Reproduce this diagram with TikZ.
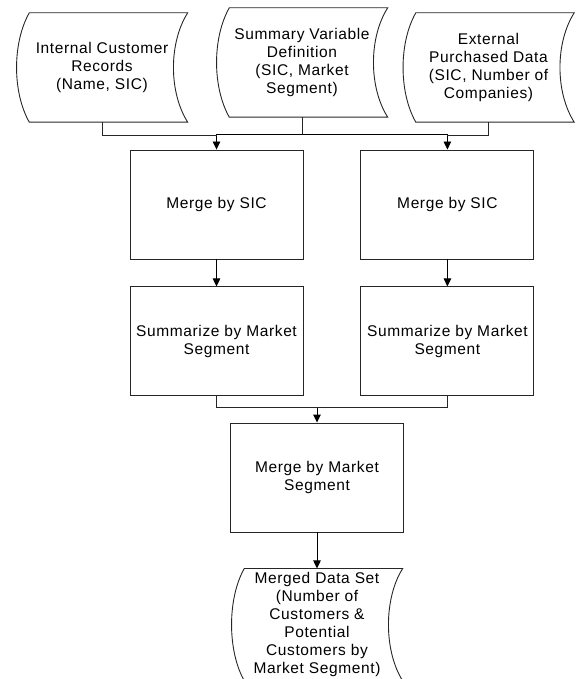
\documentclass[tikz,border=0pt]{standalone}
\usepackage{fontspec}
\setmainfont{Liberation Sans}[LetterSpace=4]
\usetikzlibrary{positioning, arrows.meta, calc}

\newcommand{\chartfont}{\fontsize{15.5}{18}\selectfont}

\tikzset{
    box/.style={
        rectangle, draw=black!85, line width=0.9pt, inner sep=2pt,
        align=center, font=\chartfont,
        minimum width=173pt, minimum height=109pt,
    },
    store/.style={
        rectangle, inner sep=0pt, align=center, font=\chartfont,
        minimum width=171pt, minimum height=109pt,
    },
    outline/.style={draw=black!85, line width=0.9pt},
    flow/.style={
        -{Triangle[length=8pt,width=7.5pt]}, line width=0.9pt, draw=black
    },
    link/.style={line width=0.9pt, draw=black!85},
}

% stored-data outline round a store node: both sides bow to the left
\newcommand{\drawstore}[1]{%
    \draw[outline] ($(#1.north west)+(13,0)$) -- (#1.north east)
        .. controls ($(#1.north east)+(-19,30)$) and ($(#1.south east)+(-19,-30)$) .. (#1.south east)
        -- ($(#1.south west)+(13,0)$)
        .. controls ($(#1.south west)+(-4,-30)$) and ($(#1.north west)+(-4,30)$) .. cycle;%
}

\begin{document}
\begin{tikzpicture}[x=1pt, y=-1pt, node distance=27pt and 57pt]
\useasboundingbox (0,0) rectangle (576,679);

% ============================================================
%  Top row: the three data sources
% ============================================================
\node[store] (intern) at (102,67.5) {Internal Customer\\Records\\(Name, SIC)};
\node[store] (summary) at (302,62.5) {Summary Variable\\Definition\\(SIC, Market\\Segment)};
\node[store] (extern) at (488.5,67.5) {External\\Purchased Data\\(SIC, Number of\\Companies)};

\drawstore{intern}
\drawstore{summary}
\drawstore{extern}

% ============================================================
%  Two parallel branches
% ============================================================
\node[box] (mergeA) at (216.5,204.5) {Merge by SIC};
\node[box, right=of mergeA] (mergeB) {Merge by SIC};

\node[box, below=of mergeA] (sumA) {Summarize by Market\\Segment};
\node[box, below=of mergeB] (sumB) {Summarize by Market\\Segment};

\draw[flow] (mergeA) -- (sumA);
\draw[flow] (mergeB) -- (sumB);

% definition feeds both merges, the records join from the sides
\coordinate (hub)   at ($(summary.south)+(0,17)$);
\coordinate (joinA) at ($(mergeA.north)+(0,-14)$);
\coordinate (joinB) at ($(mergeB.north)+(0,-14)$);

\draw[link] (summary.south) -- (hub);
\draw[flow] (hub) -| (mergeA.north);
\draw[flow] (hub) -| (mergeB.north);
\draw[link] (intern.south) |- (joinA);
\draw[link] (extern.south) |- (joinB);

% ============================================================
%  Final merge and output
% ============================================================
\node[box] (mergeM) at (317,477.5) {Merge by Market\\Segment};

\coordinate (meet) at ($(mergeM.north)+(0,-15)$);
\draw[link] (sumA.south) |- (meet);
\draw[link] (sumB.south) |- (meet);
\draw[flow] (meet) -- (mergeM.north);

\node[store, below=36pt of mergeM, minimum height=112pt] (result)
    {Merged Data Set\\(Number of\\Customers \&\\Potential\\Customers by\\Market Segment)};
\drawstore{result}

\draw[flow] (mergeM) -- (result);

\end{tikzpicture}
\end{document}
